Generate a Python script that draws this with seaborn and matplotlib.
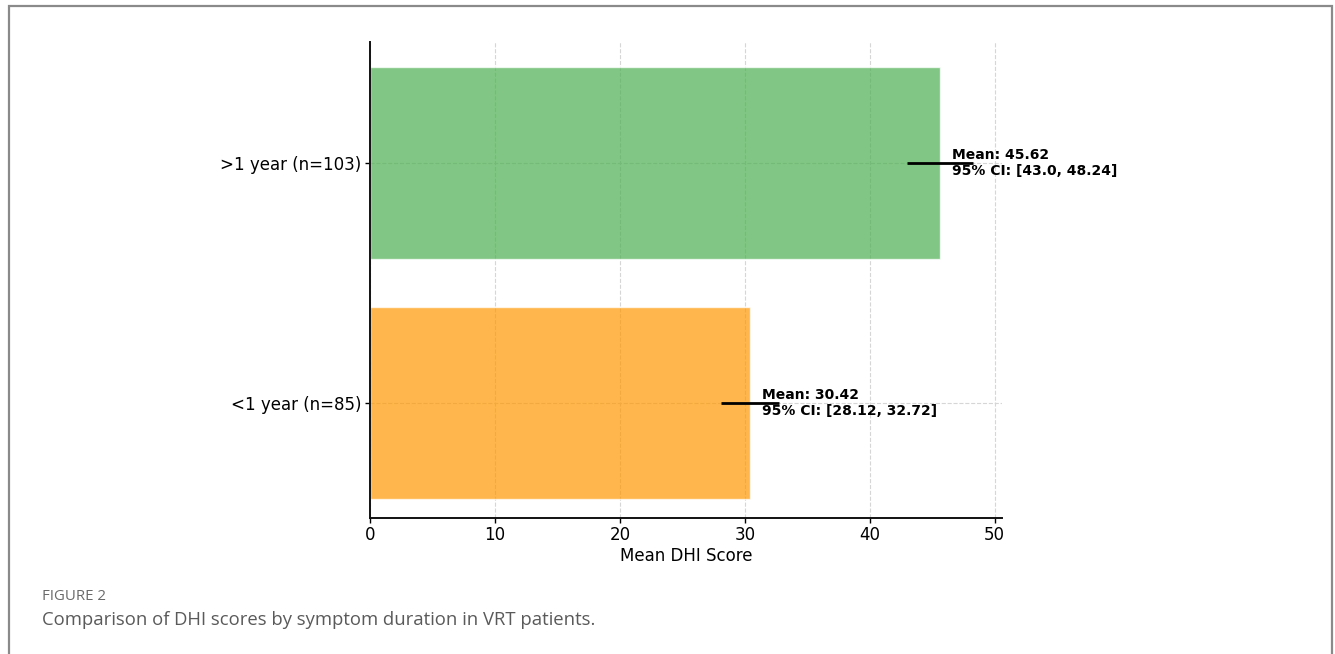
import matplotlib
matplotlib.use("Agg")
import matplotlib.pyplot as plt
import seaborn as sns
import pandas as pd
from matplotlib.patches import Rectangle

categories = [">1 year (n=103)", "<1 year (n=85)"]
means = [45.62, 30.42]
ci_low = [43.0, 28.12]
ci_high = [48.24, 32.72]
bar_colors = ["#4CAF50", "#FF9800"]
x_ticks = [0, 10, 20, 30, 40, 50]

sns.set_theme(style="white", font="DejaVu Sans")
plt.rcParams["font.family"] = ["DejaVu Sans"]

df = pd.DataFrame({"group": categories, "mean": means})

fig = plt.figure(figsize=(13.35, 6.54), dpi=100)
ax = fig.add_axes([0.2772, 0.2080, 0.4734, 0.7278])

sns.barplot(data=df, x="mean", y="group", hue="group", palette=bar_colors,
            order=categories, hue_order=categories, orient="h",
            errorbar=None, alpha=0.7, width=0.8, saturation=1,
            legend=False, ax=ax, zorder=2)

ypos = list(range(len(categories)))
xerr = [[m - lo for m, lo in zip(means, ci_low)],
        [hi - m for m, hi in zip(means, ci_high)]]
ax.errorbar(means, ypos, xerr=xerr, fmt="none", ecolor="black",
            elinewidth=2, capsize=0, zorder=3)

for i, (m, lo, hi) in enumerate(zip(means, ci_low, ci_high)):
    ax.text(m + 1, i, f"Mean: {m}\n95% CI: [{lo}, {hi}]", va="center",
            ha="left", fontsize=10, fontweight="bold", color="black",
            family=["DejaVu Sans"], zorder=4, linespacing=1.2)

ax.set_xlim(0, 50.6)
ax.set_ylim(1.479, -0.504)
ax.set_xticks(x_ticks)
ax.tick_params(axis="both", labelsize=12, colors="black", length=3.5,
               width=1, direction="out", bottom=True, left=True, pad=2.5)
ax.set_xlabel("Mean DHI Score", fontsize=12, color="black", labelpad=2)
ax.set_ylabel("")
ax.grid(True, linestyle="--", color="#d6d6d6", linewidth=0.8)
ax.set_axisbelow(True)
for s in ["top", "right"]:
    ax.spines[s].set_visible(False)
for s in ["left", "bottom"]:
    ax.spines[s].set_color("#111111")
    ax.spines[s].set_linewidth(1.4)

# page frame and caption
fig.patches.append(Rectangle((9 / 1335, -0.05), (1332 - 9) / 1335,
                             1.05 - 6 / 654, transform=fig.transFigure,
                             fill=False, edgecolor="#8a8a8a", linewidth=1.6))
fig.text(42 / 1335, 1 - 597 / 654, "FIGURE 2", fontsize=10.8,
         color="#6a6a6a", family=["Open Sans", "DejaVu Sans"], va="center")
fig.text(42 / 1335, 1 - 620 / 654,
         "Comparison of DHI scores by symptom duration in VRT patients.",
         fontsize=13.3, color="#5a5a5a", family=["Open Sans", "DejaVu Sans"],
         va="center")

fig.savefig("out.png", dpi=100)
